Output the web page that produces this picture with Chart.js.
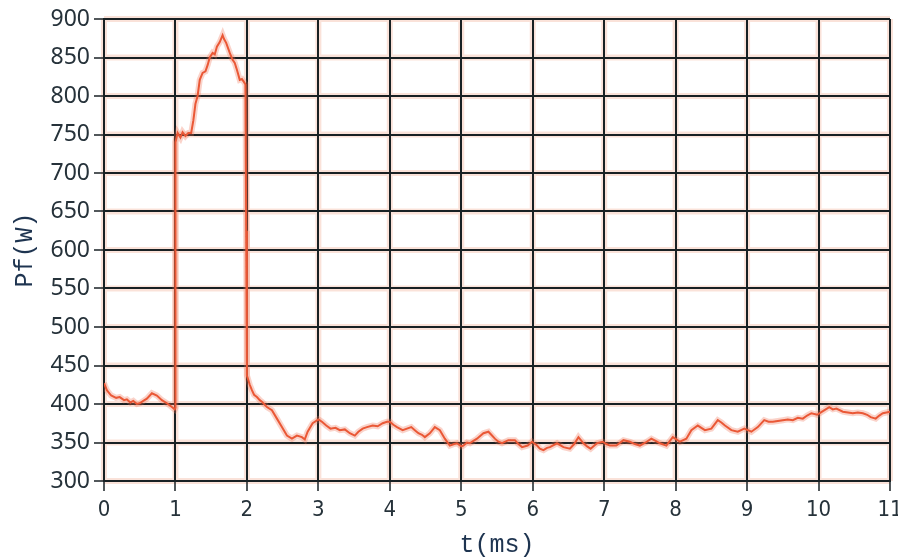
<!DOCTYPE html>
<html>
<head>
<meta charset="utf-8">
<script src="https://cdn.jsdelivr.net/npm/chart.js@4.4.1/dist/chart.umd.min.js"></script>
<style>
  html, body { margin: 0; padding: 0; background: #ffffff; }
  #wrap { width: 898px; height: 560px; }
</style>
</head>
<body>
<div id="wrap"><canvas id="c" width="898" height="560"></canvas></div>
<script>
// Sampled trace: time (ms) and forward power Pf (W)
const timeMs = [
  0, 0.04, 0.1, 0.17, 0.22, 0.28, 0.32, 0.37, 0.41, 0.46, 0.5, 0.55, 0.6, 0.67, 0.74, 0.81, 0.88, 0.95, 0.99,
  1.0, 1.0, 1.03, 1.07, 1.1, 1.14, 1.18, 1.22, 1.25, 1.28, 1.31, 1.34, 1.38, 1.42, 1.45, 1.48, 1.52, 1.55,
  1.58, 1.62, 1.66, 1.68, 1.71, 1.76, 1.8, 1.83, 1.86, 1.9, 1.93, 1.96, 1.98, 1.99, 2.0,
  2.04, 2.07, 2.1, 2.14, 2.18, 2.21, 2.25, 2.28, 2.35, 2.42, 2.49, 2.56, 2.63, 2.7, 2.77, 2.81, 2.85, 2.92,
  3.0, 3.05, 3.11, 3.17, 3.24, 3.3, 3.37, 3.44, 3.51, 3.56, 3.62, 3.68, 3.76, 3.83, 3.9, 3.96,
  4.0, 4.05, 4.1, 4.18, 4.24, 4.3, 4.35, 4.4, 4.45, 4.49, 4.56, 4.63, 4.7, 4.77, 4.84, 4.9, 4.94,
  5.0, 5.03, 5.08, 5.12, 5.17, 5.22, 5.31, 5.38, 5.42, 5.47, 5.52, 5.57, 5.66, 5.75, 5.8, 5.85, 5.93, 5.99,
  6.06, 6.1, 6.15, 6.2, 6.24, 6.34, 6.43, 6.52, 6.58, 6.64, 6.71, 6.76, 6.81, 6.9, 6.98,
  7.03, 7.08, 7.17, 7.27, 7.36, 7.43, 7.5, 7.58, 7.66, 7.72, 7.78, 7.87, 7.96,
  8.01, 8.06, 8.15, 8.22, 8.31, 8.36, 8.41, 8.5, 8.59, 8.64, 8.69, 8.78, 8.87, 8.96,
  9.06, 9.15, 9.24, 9.3, 9.36, 9.43, 9.5, 9.57, 9.64, 9.71, 9.78, 9.84, 9.9, 9.98,
  10.05, 10.1, 10.15, 10.2, 10.25, 10.34, 10.41, 10.48, 10.55, 10.62, 10.68, 10.73, 10.8, 10.85, 10.9, 10.95, 11.0
];
const powerW = [
  427, 418, 411, 408, 409, 405, 406, 402, 404, 400, 401, 404, 407, 414, 411, 405, 401, 396, 393,
  395, 740, 752, 746, 753, 748, 752, 752, 768, 790, 800, 821, 830, 832, 840, 850, 856, 854,
  864, 870, 879, 874, 869, 856, 847, 843, 834, 821, 822, 818, 815, 625, 437,
  425, 418, 412, 409, 405, 403, 399, 396, 392, 381, 370, 359, 355, 359, 357, 354, 364, 375,
  380, 377, 372, 368, 369, 366, 367, 362, 359, 364, 368, 370, 372, 371, 375, 377,
  377, 373, 370, 366, 368, 370, 366, 362, 360, 357, 362, 370, 366, 355, 346, 348, 349,
  345, 346, 350, 349, 352, 355, 362, 364, 360, 355, 351, 349, 353, 353, 348, 344, 346, 351,
  346, 342, 340, 343, 344, 349, 344, 342, 348, 357, 349, 345, 342, 349, 351,
  348, 346, 346, 353, 351, 348, 346, 350, 355, 352, 349, 346, 357,
  354, 351, 355, 366, 372, 369, 366, 368, 379, 376, 372, 366, 364, 368,
  364, 370, 379, 377, 377, 378, 379, 380, 379, 382, 381, 385, 388, 386,
  390, 393, 396, 393, 394, 390, 389, 388, 389, 388, 386, 383, 381, 385, 388, 389, 390
];

// Axis settings
const timeRange = [0, 11];
const powerRange = [300, 900];
const timeStep = 1;
const powerStep = 50;
const xTitle = 't(ms)';
const yTitle = 'Pf(W)';

const points = timeMs.map((t, i) => ({ x: t, y: powerW[i] }));

const gridColor = '#182124';
const labelColor = '#26323a';
const titleColor = '#1e3450';

// White page plus a soft salmon glow beneath the grid lines
const gridGlow = {
  id: 'gridGlow',
  beforeDraw(chart) {
    const { ctx, chartArea: a, scales: { x, y } } = chart;
    ctx.save();
    ctx.fillStyle = '#ffffff';
    ctx.fillRect(0, 0, chart.width, chart.height);
    ctx.strokeStyle = 'rgba(238, 150, 120, 0.28)';
    ctx.lineWidth = 6;
    ctx.beginPath();
    x.ticks.forEach(t => {
      const px = x.getPixelForValue(t.value);
      ctx.moveTo(px, a.top); ctx.lineTo(px, a.bottom);
    });
    y.ticks.forEach(t => {
      const py = y.getPixelForValue(t.value);
      ctx.moveTo(a.left, py); ctx.lineTo(a.right, py);
    });
    ctx.stroke();
    ctx.restore();
  }
};

new Chart(document.getElementById('c'), {
  type: 'line',
  data: {
    datasets: [
      {
        // glow under the trace
        data: points,
        borderColor: 'rgba(240, 110, 80, 0.30)',
        borderWidth: 6,
        pointRadius: 0,
        tension: 0
      },
      {
        data: points,
        borderColor: '#e8502c',
        borderWidth: 2,
        pointRadius: 0,
        tension: 0
      },
      {
        // dark speckle along the trace
        data: points,
        borderColor: 'rgba(60, 30, 25, 0.55)',
        borderWidth: 1,
        borderDash: [1, 5],
        pointRadius: 0,
        tension: 0
      }
    ]
  },
  options: {
    responsive: false,
    animation: false,
    devicePixelRatio: 1,
    layout: { padding: { top: 19, right: 0, left: 0, bottom: 0 } },
    plugins: { legend: { display: false }, tooltip: { enabled: false } },
    scales: {
      x: {
        type: 'linear',
        min: timeRange[0],
        max: timeRange[1],
        ticks: {
          stepSize: timeStep,
          color: labelColor,
          padding: 6,
          font: { family: '"Liberation Sans Narrow", "DejaVu Sans Condensed", sans-serif', size: 22 }
        },
        grid: { color: gridColor, lineWidth: 2, tickLength: 10, tickWidth: 1.5, tickColor: gridColor },
        border: { color: gridColor, width: 2 },
        title: {
          display: true,
          text: xTitle,
          color: titleColor,
          padding: { top: 0, bottom: 0 },
          font: { family: '"Liberation Mono", "DejaVu Sans Mono", monospace', size: 25, lineHeight: 1.2 }
        },
        afterFit(scale) { scale.height = 79; scale.paddingRight = 8; }
      },
      y: {
        type: 'linear',
        min: powerRange[0],
        max: powerRange[1],
        ticks: {
          stepSize: powerStep,
          color: labelColor,
          padding: 4,
          font: { family: '"Noto Sans", "Open Sans", sans-serif', size: 23 }
        },
        grid: { color: gridColor, lineWidth: 2, tickLength: 10, tickWidth: 1.5, tickColor: gridColor },
        border: { color: gridColor, width: 2 },
        title: {
          display: true,
          text: yTitle,
          color: titleColor,
          padding: { top: 10, bottom: 0 },
          font: { family: '"Liberation Mono", "DejaVu Sans Mono", monospace', size: 25, lineHeight: 1.2 }
        },
        afterFit(scale) { scale.width = 104; }
      }
    }
  },
  plugins: [gridGlow]
});
</script>
</body>
</html>
